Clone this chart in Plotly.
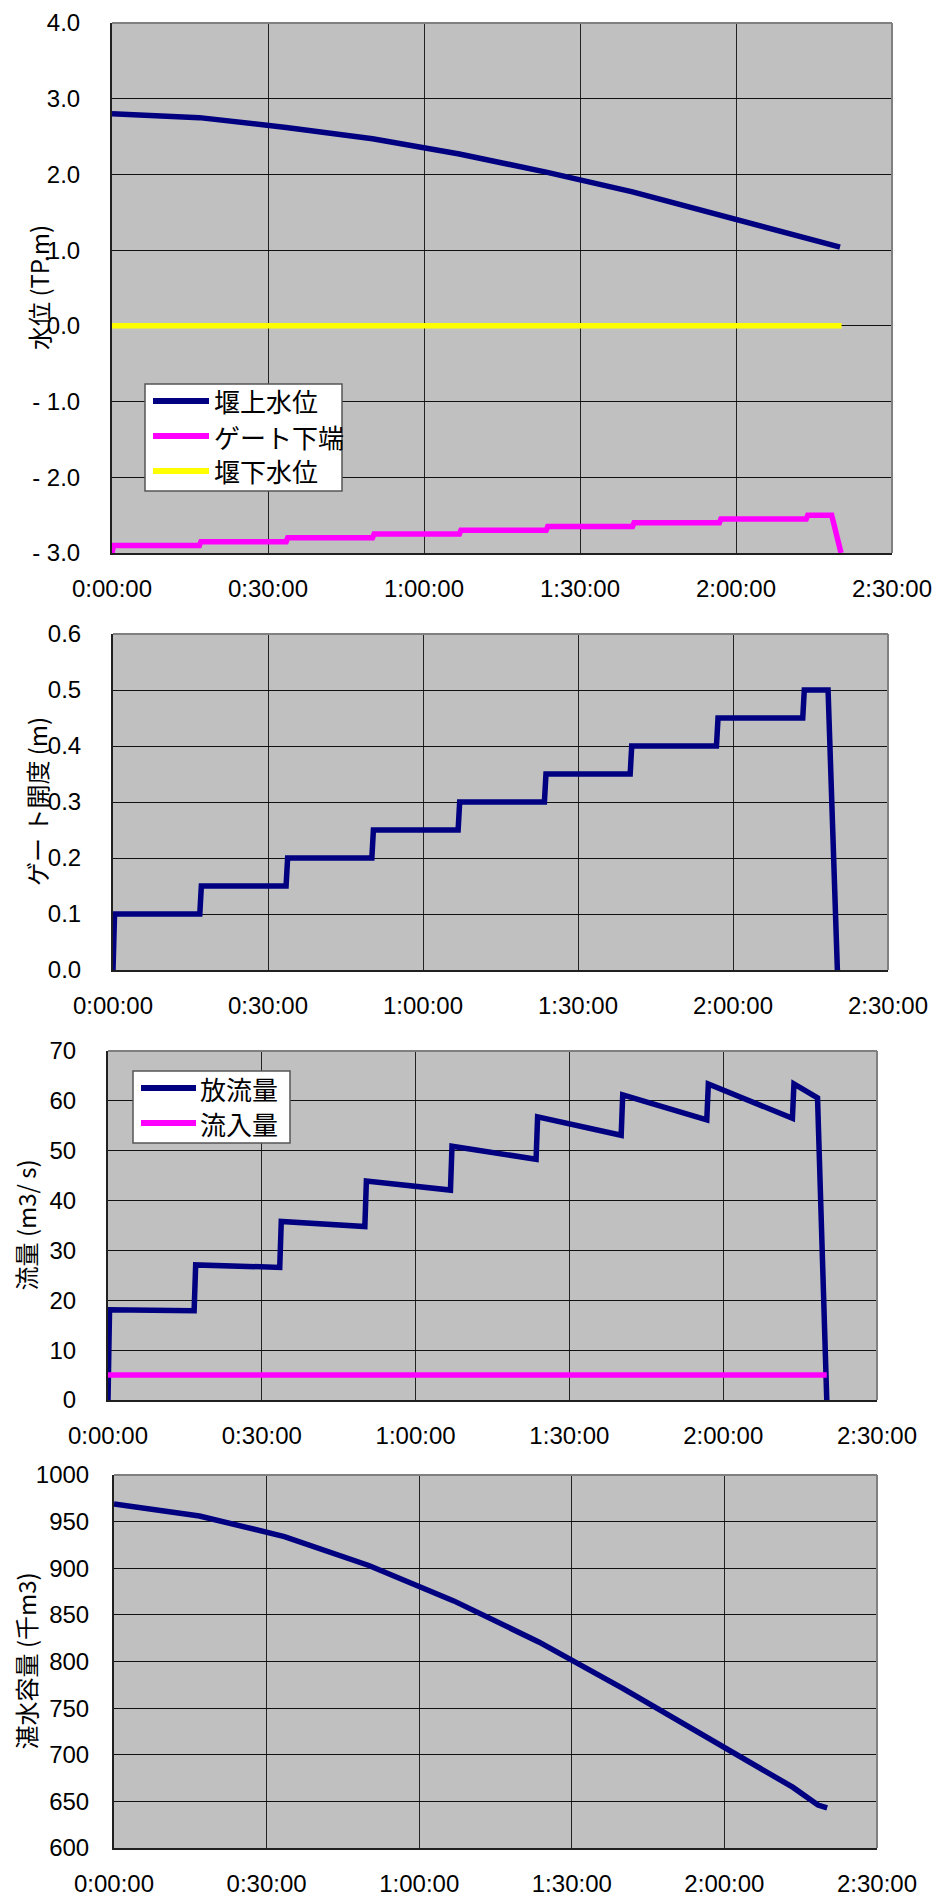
import plotly.graph_objects as go

W, H = 937, 1899

# ---- data (time in minutes from start) ----
x_tick_vals = [0, 30, 60, 90, 120, 150]
x_tick_text = ["0:00:00", "0:30:00", "1:00:00", "1:30:00", "2:00:00", "2:30:00"]

# gate operation record
t_gate = [0, 0.3, 16.8, 17.1, 33.5, 33.8, 50.1, 50.4, 66.8, 67.1,
          83.5, 83.8, 100.1, 100.4, 116.8, 117.1, 133.5, 133.8, 138.4, 140.2]
gate_open = [0.0, 0.1, 0.1, 0.15, 0.15, 0.2, 0.2, 0.25, 0.25, 0.3,
             0.3, 0.35, 0.35, 0.4, 0.4, 0.45, 0.45, 0.5, 0.5, 0.0]
gate_bottom = [-3.0, -2.9, -2.9, -2.85, -2.85, -2.8, -2.8, -2.75, -2.75, -2.7,
               -2.7, -2.65, -2.65, -2.6, -2.6, -2.55, -2.55, -2.5, -2.5, -3.0]
outflow = [0.0, 18.1, 17.9, 27.1, 26.6, 35.8, 34.8, 43.9, 42.1, 50.9,
           48.3, 56.8, 53.1, 61.2, 56.2, 63.4, 56.5, 63.4, 60.6, 0.0]

# upstream / downstream water level
t_level = [0, 16.8, 33.5, 50.1, 66.8, 83.5, 100.1, 116.8, 133.5, 140.0]
level_up = [2.80, 2.75, 2.62, 2.47, 2.27, 2.03, 1.77, 1.47, 1.17, 1.04]
t_down = [0, 140.3]
level_down = [0.0, 0.0]

# inflow
t_in = [0, 140.2]
inflow = [5.0, 5.0]

# storage volume
t_store = [0, 16.8, 33.5, 50.1, 66.8, 83.5, 100.1, 116.8, 133.5, 138.4, 140.2]
storage = [969, 956, 934, 903, 865, 821, 771, 718, 665, 646, 643]

NAVY, MAGENTA, YELLOW = "#000080", "#FF00FF", "#FFFF00"
FONT = "Liberation Sans, Arial, sans-serif"
JFONT = "Noto Sans CJK JP"
LW = 5.5
TICK_SIZE = 24

# plot boxes in pixels: left, right, top, bottom
boxes = [
    (112, 892, 23, 553),
    (113, 888, 634, 970),
    (108, 877, 1051, 1400),
    (114, 877, 1475, 1848),
]

y_specs = [
    dict(range=[-3, 4], vals=[4, 3, 2, 1, 0, -1, -2, -3],
         text=["4.0", "3.0", "2.0", "1.0", "0.0", "- 1.0", "- 2.0", "- 3.0"], standoff=25),
    dict(range=[0, 0.6], vals=[0, 0.1, 0.2, 0.3, 0.4, 0.5, 0.6],
         text=["0.0", "0.1", "0.2", "0.3", "0.4", "0.5", "0.6"], standoff=25),
    dict(range=[0, 70], vals=[0, 10, 20, 30, 40, 50, 60, 70],
         text=["0", "10", "20", "30", "40", "50", "60", "70"], standoff=25),
    dict(range=[600, 1000], vals=[600, 650, 700, 750, 800, 850, 900, 950, 1000],
         text=["600", "650", "700", "750", "800", "850", "900", "950", "1000"], standoff=18),
]

y_titles = ["水位 (TP.m)", "ゲー ト開度 (m)", "流量 (m3/ s)", "湛水容量 (千m3)"]
title_x = [38, 36, 25, 25]


def px_x(v):
    return v / W


def px_y(v):
    return 1 - v / H


fig = go.Figure()

series = [
    (1, t_level, level_up, NAVY),
    (1, t_gate, gate_bottom, MAGENTA),
    (1, t_down, level_down, YELLOW),
    (2, t_gate, gate_open, NAVY),
    (3, t_gate, outflow, NAVY),
    (3, t_in, inflow, MAGENTA),
    (4, t_store, storage, NAVY),
]
for k, xs, ys, col in series:
    fig.add_trace(go.Scatter(
        x=xs, y=ys, mode="lines",
        line=dict(color=col, width=LW),
        xaxis="x" if k == 1 else f"x{k}",
        yaxis="y" if k == 1 else f"y{k}",
        showlegend=False, hoverinfo="skip",
    ))

layout = dict(
    width=W, height=H,
    margin=dict(l=0, r=0, t=0, b=0, autoexpand=False),
    paper_bgcolor="white",
    plot_bgcolor="#C0C0C0",
    font=dict(family=FONT, size=TICK_SIZE, color="black"),
    showlegend=False,
)
shapes = []
annotations = []

for i, (l, r, t, b) in enumerate(boxes):
    k = i + 1
    xname = "xaxis" if k == 1 else f"xaxis{k}"
    yname = "yaxis" if k == 1 else f"yaxis{k}"
    xid = "x" if k == 1 else f"x{k}"
    yid = "y" if k == 1 else f"y{k}"
    ys = y_specs[i]
    layout[xname] = dict(
        domain=[px_x(l), px_x(r)], anchor=yid, range=[0, 150],
        tickvals=x_tick_vals, ticktext=x_tick_text, automargin=False,
        showgrid=True, gridcolor="#222222", gridwidth=1,
        zeroline=False, showline=True, linecolor="#202020", linewidth=2,
        ticks="", ticklabelstandoff=13,
        tickfont=dict(family=FONT, size=TICK_SIZE, color="black"),
    )
    layout[yname] = dict(
        domain=[px_y(b), px_y(t)], anchor=xid, range=ys["range"],
        tickvals=ys["vals"], ticktext=ys["text"], automargin=False,
        showgrid=True, gridcolor="#111111", gridwidth=1,
        zeroline=False, showline=True, linecolor="#202020", linewidth=2,
        ticks="", ticklabelstandoff=ys["standoff"],
        tickfont=dict(family=FONT, size=TICK_SIZE, color="black"),
    )
    # grey frame on top and right
    shapes.append(dict(type="line", xref=f"{xid} domain", yref=f"{yid} domain",
                       x0=0, x1=1, y0=1, y1=1, line=dict(color="#808080", width=2)))
    shapes.append(dict(type="line", xref=f"{xid} domain", yref=f"{yid} domain",
                       x0=1, x1=1, y0=0, y1=1, line=dict(color="#808080", width=2)))
    annotations.append(dict(
        text=y_titles[i], textangle=-90, showarrow=False,
        xref="paper", yref="paper", x=px_x(title_x[i]), y=px_y((t + b) / 2),
        xanchor="center", yanchor="middle",
        font=dict(family=JFONT, size=24, color="black"),
    ))


def add_legend(box, rows, names, colors, x_line, x_text):
    l, r, t, b = box
    shapes.append(dict(type="rect", xref="paper", yref="paper",
                       x0=px_x(l), x1=px_x(r), y0=px_y(b), y1=px_y(t),
                       fillcolor="white", line=dict(color="#555555", width=1.5),
                       layer="above"))
    for yy, nm, col in zip(rows, names, colors):
        shapes.append(dict(type="line", xref="paper", yref="paper",
                           x0=px_x(x_line[0]), x1=px_x(x_line[1]),
                           y0=px_y(yy), y1=px_y(yy),
                           line=dict(color=col, width=LW + 0.5), layer="above"))
        annotations.append(dict(
            text=nm, showarrow=False, xref="paper", yref="paper",
            x=px_x(x_text), y=px_y(yy), xanchor="left", yanchor="middle",
            font=dict(family=JFONT, size=26, color="black"),
        ))


add_legend((145, 342, 384, 491), [401, 436, 471],
           ["堰上水位", "ゲート下端", "堰下水位"], [NAVY, MAGENTA, YELLOW],
           (153, 209), 212)
add_legend((133, 290, 1071, 1143), [1088, 1123],
           ["放流量", "流入量"], [NAVY, MAGENTA],
           (141, 196), 198)

layout["shapes"] = shapes
layout["annotations"] = annotations
fig.update_layout(**layout)

fig.write_html("out.html")
